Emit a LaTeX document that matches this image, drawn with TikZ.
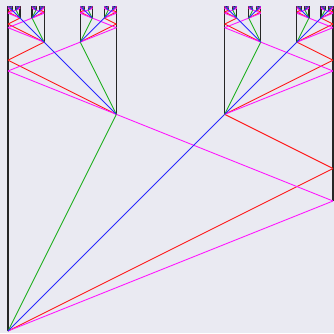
\documentclass[tikz,border=0pt]{standalone}
\usepackage{tikz}
\definecolor{bgc}{HTML}{EAEAF2}
\definecolor{cg}{RGB}{30,175,30}
\definecolor{cb}{RGB}{40,40,255}
\definecolor{cr}{RGB}{255,25,25}
\definecolor{cm}{RGB}{255,25,255}
\tikzset{
  vline/.style={draw=black!85,line width=1.2pt},
  gline/.style={draw=cg,line width=0.9pt},
  bline/.style={draw=cb,line width=0.9pt},
  rline/.style={draw=cr,line width=0.9pt},
  mline/.style={draw=cm,line width=0.9pt}
}
\def\ytop{327}
\newcommand\fblk[6]{%
  \begingroup
  \pgfmathsetmacro\bx{#1}%
  \pgfmathsetmacro\by{#2}%
  \pgfmathtruncatemacro\bd{#3}%
  \pgfmathsetmacro\bs{#4}%
  \pgfmathsetmacro\gx{\bx+\bd*\bs}%
  \pgfmathsetmacro\gy{\by+2*\bs}%
  \pgfmathsetmacro\ox{\bx+2*\bd*\bs}%
  \pgfmathsetmacro\rx{\bx+3*\bd*\bs}%
  \pgfmathsetmacro\ry{\by+1.5*\bs}%
  \pgfmathsetmacro\my{\by+1.2*\bs}%
  \coordinate (#6) at (\bx,\by);
  \coordinate (#6g) at (\gx,\gy);
  \coordinate (#6b) at (\ox,\gy);
  \coordinate (#6r) at (\rx,\ry);
  \coordinate (#6m) at (\rx,\my);
  \coordinate (#6t0) at (\bx,\ytop);
  \coordinate (#6t1) at (\gx,\ytop);
  \coordinate (#6t2) at (\ox,\ytop);
  \coordinate (#6t3) at (\rx,\ytop);
  \draw[vline] (#6) -- (#6t0);
  \draw[vline] (#6g) -- (#6t1);
  \draw[vline] (#6b) -- (#6t2);
  \draw[vline] (#6m) -- (#6t3);
  \draw[rline] (#6) -- (#6r);
  \draw[rline] (#6b) -- (#6r);
  \draw[mline] (#6) -- (#6m);
  \draw[mline] (#6g) -- (#6m);
  \draw[gline] (#6) -- (#6g);
  \draw[bline] (#6) -- (#6b);
  \ifnum#5>1
    \pgfmathsetmacro\ns{\bs/3}%
    \pgfmathtruncatemacro\nd{#5-1}%
    \pgfmathtruncatemacro\negd{-\bd}%
    \edef\fnext{\noexpand\fblk{\gx}{\gy}{\negd}{\ns}{\nd}{#6g}\noexpand\fblk{\ox}{\gy}{\bd}{\ns}{\nd}{#6b}}%
    \fnext
  \fi
  \endgroup}
\begin{document}
\begin{tikzpicture}[x=1pt,y=1pt]
\fill[bgc] (0,0) rectangle (334,333);
\useasboundingbox (0,0) rectangle (334,333);
\fblk{8}{2}{1}{108.333}{6}{A}
\end{tikzpicture}
\end{document}
